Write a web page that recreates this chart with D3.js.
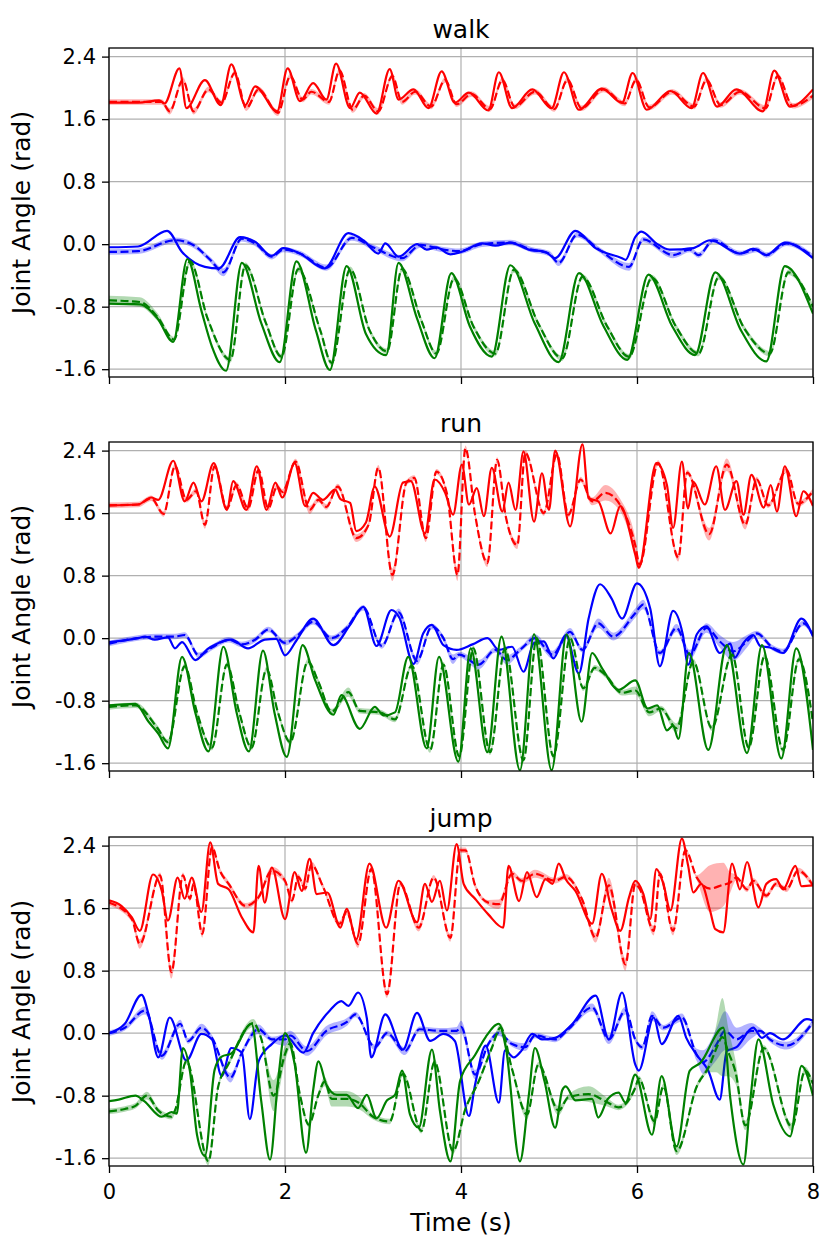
<!DOCTYPE html>
<html>
<head>
<meta charset="utf-8">
<script src="https://cdn.jsdelivr.net/npm/d3@7"></script>
<style>
  body { margin: 0; background: #fff; }
  text { font-family: "DejaVu Sans", sans-serif; }
</style>
</head>
<body>
<svg width="830" height="1240"></svg>
<script>
// [time (s), joint angle (rad)] for the measured curves,
// [time, angle, band half-width] for the predicted ones (half-width defaults to 0.035)

var walkRedTrue = [[0,1.81],[0.33,1.81],[0.57,1.84],[0.63,1.80],[0.80,2.25],[0.88,1.74],[1.09,2.10],[1.27,1.78],[1.39,2.30],[1.55,1.78],[1.66,2.02],[1.91,1.70],
  [2.03,2.25],[2.17,1.83],[2.32,2.06],[2.47,1.85],[2.58,2.31],[2.74,1.74],[2.85,1.94],[3.04,1.67],[3.19,2.24],[3.29,1.85],[3.46,1.98],[3.63,1.74],[3.78,2.21],[3.93,1.81],
  [4.09,1.94],[4.31,1.71],[4.43,2.20],[4.58,1.74],[4.81,1.98],[5.03,1.74],[5.17,2.20],[5.34,1.72],[5.60,1.99],[5.83,1.81],[5.95,2.19],
  [6.11,1.72],[6.38,1.96],[6.62,1.74],[6.75,2.19],[6.91,1.76],[7.13,1.98],[7.43,1.70],[7.56,2.22],[7.74,1.76],[8.0,1.98]];
var walkRedPred = [[0,1.82],[0.33,1.82],[0.60,1.82],[0.69,1.70,0.04],[0.84,2.10],[0.96,1.70,0.04],[1.13,1.98],[1.28,1.81],[1.43,2.19],[1.56,1.74],[1.70,1.98],[1.92,1.68,0.04],
  [2.06,2.15],[2.20,1.85],[2.30,1.95],[2.50,1.82],[2.62,2.22],[2.77,1.72,0.04],[2.90,1.90],[3.06,1.70,0.04],[3.22,2.15],[3.33,1.82],[3.48,1.95],[3.66,1.76],[3.82,2.10],[3.95,1.79],
  [4.12,1.92],[4.33,1.73],[4.47,2.10],[4.61,1.76],[4.84,1.95],[5.06,1.73],[5.21,2.10],[5.37,1.74],[5.62,1.98],[5.86,1.80],[5.99,2.10],
  [6.14,1.75],[6.40,1.95],[6.65,1.76],[6.79,2.10],[6.95,1.78],[7.17,1.95],[7.46,1.74],[7.60,2.15],[7.77,1.77],[8.0,1.90]];

var walkBlueTrue = [[0,-0.04],[0.33,-0.03],[0.66,0.17],[0.83,-0.10],[1.09,-0.29],[1.25,-0.31],[1.49,0.09],[1.66,0.03],[1.85,-0.15],[1.98,-0.05],
  [2.17,-0.12],[2.45,-0.31],[2.72,0.14],[2.89,0.05],[3.06,-0.12],[3.14,0.01],[3.29,-0.16],[3.50,0.0],[3.61,-0.07],[3.72,-0.04],[3.88,-0.13],
  [4.0,-0.10],[4.24,0.01],[4.39,-0.02],[4.56,0.02],[4.77,-0.07],[4.96,-0.10],[5.07,-0.18],[5.30,0.17],[5.53,-0.05],[5.83,-0.18],[5.87,-0.20],[5.98,0.09],
  [6.05,0.16],[6.22,0.01],[6.37,-0.07],[6.64,-0.05],[6.83,0.05],[7.17,-0.12],[7.32,-0.06],[7.47,-0.14],[7.68,0.02],[8.0,-0.18]];
var walkBluePred = [[0,-0.10],[0.33,-0.09],[0.75,0.05],[0.94,0.0],[1.15,-0.20],[1.30,-0.36,0.05],[1.51,0.07],[1.66,0.01],[1.85,-0.16],[1.98,-0.07],
  [2.17,-0.12],[2.47,-0.30,0.04],[2.76,0.08],[3.0,-0.04],[3.33,-0.18,0.04],[3.54,-0.01],[3.80,-0.07],[3.98,-0.09],
  [4.24,0.0],[4.56,0.02],[4.80,-0.07],[5.00,-0.12],[5.11,-0.24,0.04],[5.32,0.12],[5.57,-0.07],[5.91,-0.29,0.05],
  [6.07,0.06],[6.41,-0.14,0.04],[6.60,-0.07],[6.70,-0.14],[6.87,0.05],[7.17,-0.12],[7.36,-0.07],[7.47,-0.14],[7.70,0.01],[8.0,-0.16]];

var walkGreenTrue = [[0,-0.76],[0.35,-0.77],[0.55,-0.95],[0.73,-1.25],[0.89,-0.19],[1.05,-0.85],[1.17,-1.31],[1.33,-1.62],[1.51,-0.24],[1.73,-1.01],[1.94,-1.51],
  [2.13,-0.22],[2.35,-1.10],[2.51,-1.61],[2.70,-0.28],[2.92,-1.15],[3.15,-1.42],[3.29,-0.24],[3.50,-0.95],[3.70,-1.46],[3.89,-0.37],
  [4.10,-1.05],[4.35,-1.44],[4.56,-0.27],[4.84,-1.02],[5.11,-1.51],[5.34,-0.37],[5.62,-1.05],[5.89,-1.48],
  [6.13,-0.39],[6.40,-1.05],[6.66,-1.42],[6.89,-0.36],[7.18,-1.10],[7.47,-1.50],[7.68,-0.28],[8.0,-0.89]];
var walkGreenPred = [[0,-0.72,0.06],[0.35,-0.74,0.06],[0.55,-0.93,0.05],[0.74,-1.22],[0.92,-0.22],[1.12,-0.95],[1.38,-1.48],[1.55,-0.27],[1.78,-1.00],[1.96,-1.44],
  [2.15,-0.32],[2.40,-1.10],[2.53,-1.52],[2.74,-0.32],[2.96,-1.10],[3.16,-1.37],[3.33,-0.32],[3.55,-0.98],[3.72,-1.40],[3.92,-0.44],
  [4.14,-1.05],[4.39,-1.40],[4.60,-0.33],[4.88,-1.02],[5.15,-1.46],[5.38,-0.42],[5.66,-1.05],[5.91,-1.44],
  [6.17,-0.43],[6.44,-1.05],[6.70,-1.40],[6.93,-0.42],[7.22,-1.08],[7.51,-1.40],[7.72,-0.36],[8.0,-0.80]];

var runRedTrue = [[0,1.70],[0.33,1.71],[0.48,1.80],[0.56,1.77],[0.73,2.27],[0.86,1.75],[0.96,1.99],[1.05,1.75],[1.19,2.24],[1.34,1.64],[1.41,2.01],[1.56,1.64],[1.68,2.20],[1.79,1.64],[1.89,1.99],[1.97,1.80],
  [2.11,2.24],[2.23,1.69],[2.32,1.86],[2.43,1.77],[2.57,1.90],[2.63,1.78],[2.74,1.73],[2.81,1.37],[2.92,1.48],[3.02,1.94],[3.19,1.30],[3.34,1.99],[3.43,2.01],[3.59,1.34],[3.70,2.03],[3.82,1.86],[3.91,1.58],
  [4.01,2.22],[4.09,1.71],[4.18,1.92],[4.26,1.56],[4.35,2.18],[4.47,1.62],[4.54,1.99],[4.62,1.64],[4.71,2.39],[4.83,1.49],[4.92,2.11],[5.00,1.64],[5.07,2.40],[5.24,1.43],[5.38,2.48],[5.45,1.79],[5.56,1.75],[5.70,1.34],[5.81,1.69],[5.98,1.07],
  [6.02,0.90],[6.22,2.24],[6.34,1.96],[6.41,1.41],[6.51,2.26],[6.58,1.66],[6.64,2.00],[6.77,1.71],[6.90,2.20],[7.00,1.64],[7.13,2.01],[7.21,1.58],[7.30,2.09],[7.44,1.67],[7.52,1.96],[7.59,1.62],[7.68,2.20],[7.81,1.56],[7.89,1.88],[8.0,1.69]];
var runRedPred = [[0,1.70],[0.33,1.71],[0.48,1.79],[0.62,1.59],[0.75,2.20],[0.88,1.77],[0.99,1.88],[1.09,1.45,0.05],[1.20,2.20],[1.34,1.66],[1.45,1.96],[1.58,1.66],[1.70,2.15],[1.81,1.66],[1.91,1.94],[1.97,1.87],
  [2.12,2.26],[2.28,1.64,0.05],[2.38,1.77],[2.47,1.68],[2.60,1.94],[2.81,1.28,0.05],[2.95,1.45],[3.06,2.18],[3.22,0.81,0.08],[3.38,1.99],[3.47,2.05],[3.60,1.28,0.05],[3.72,2.13],[3.84,1.85],[3.96,0.81,0.08],
  [4.05,2.43],[4.16,1.58],[4.30,0.96,0.05],[4.41,2.28],[4.51,1.55],[4.64,1.19,0.05],[4.73,2.37],[4.94,1.60],[5.09,2.35],[5.22,1.58],[5.36,2.03],[5.49,1.75,0.05],[5.64,1.86,0.1],[5.81,1.70,0.08],[5.98,1.19,0.1],
  [6.03,0.94,0.05],[6.24,2.24],[6.47,1.03,0.05],[6.57,2.12],[6.82,1.33,0.08],[7.02,2.22,0.08],[7.23,1.45,0.06],[7.36,2.03],[7.49,1.70],[7.70,2.15],[7.83,1.72],[8.0,1.88]];

var runBlueTrue = [[0,-0.05],[0.33,0.0],[0.41,0.02],[0.52,-0.02],[0.67,0.01],[0.75,-0.13],[0.83,-0.05],[0.98,-0.28],[1.13,-0.13],[1.21,-0.08],[1.39,-0.02],[1.58,-0.13],[1.77,-0.02],[1.90,-0.01],[2.0,-0.22],
  [2.13,-0.03],[2.32,0.25],[2.55,-0.09],[2.74,0.17],[2.89,0.40],[3.04,-0.10],[3.21,0.36],[3.30,0.26],[3.46,-0.33],[3.57,0.06],[3.67,0.17],[3.80,-0.09],[3.95,-0.15],
  [4.13,-0.08],[4.30,0.0],[4.43,-0.15],[4.58,-0.11],[4.71,-0.43],[4.83,-0.06],[4.94,-0.04],[5.05,-0.26],[5.19,0.04],[5.34,-0.45],[5.45,0.25],[5.58,0.69],[5.71,0.51],[5.83,0.25],
  [6.0,0.70],[6.15,0.38],[6.26,-0.36],[6.41,0.35],[6.52,0.05],[6.58,-0.34],[6.68,0.05],[6.79,0.15],[6.94,-0.19],[7.06,-0.07],[7.11,-0.25],[7.21,-0.06],[7.32,0.04],[7.40,-0.10],[7.51,-0.12],[7.66,-0.19],[7.87,0.25],[8.0,0.02]];
var runBluePred = [[0,-0.07],[0.55,0.02],[0.75,0.02],[0.86,0.04],[1.02,-0.22],[1.17,-0.12],[1.36,-0.02],[1.51,-0.08],[1.66,-0.02],[1.81,0.11],[2.0,-0.06],
  [2.13,0.02],[2.32,0.21],[2.53,0.00],[2.70,0.13],[2.89,0.39],[3.10,-0.10],[3.29,0.33,0.05],[3.50,-0.29,0.05],[3.67,0.15],[3.80,0.0],[3.91,-0.27,0.06],[3.98,-0.21],
  [4.20,-0.34,0.06],[4.39,-0.15],[4.52,-0.28,0.06],[4.69,-0.13],[4.84,0.0,0.05],[5.04,-0.21,0.05],[5.24,0.08,0.05],[5.38,-0.15],[5.56,0.19,0.06],[5.73,0.02,0.05],[5.98,0.32,0.06],
  [6.07,0.43,0.06],[6.26,-0.19],[6.45,0.13,0.05],[6.60,-0.21,0.06],[6.79,0.13,0.06],[6.94,-0.04,0.08],[7.09,-0.17,0.12],[7.25,-0.04,0.08],[7.36,0.06],[7.55,-0.13],[7.66,-0.17],[7.89,0.19],[8.0,0.04]];

var runGreenTrue = [[0,-0.86],[0.30,-0.84],[0.45,-1.07],[0.56,-1.22],[0.67,-1.41],[0.83,-0.24],[0.98,-0.95],[1.13,-1.45],[1.30,-0.11],[1.45,-0.95],[1.59,-1.45],[1.75,-0.16],[1.88,-0.95],[2.02,-1.52],
  [2.20,-0.09],[2.34,-0.53],[2.55,-0.98],[2.64,-0.73],[2.85,-1.16],[3.02,-0.88],[3.12,-0.99],[3.25,-0.95],[3.40,-0.24],[3.61,-1.41],[3.75,-0.24],[3.97,-1.58],
  [4.11,-0.13],[4.30,-1.46],[4.46,0.02],[4.67,-1.69],[4.83,0.05],[5.03,-1.69],[5.20,0.05],[5.37,-1.07],[5.49,-0.19],[5.60,-0.38],[5.79,-0.66],[5.98,-0.54],
  [6.12,-0.90],[6.23,-0.86],[6.34,-1.18],[6.41,-1.12],[6.47,-1.29],[6.59,-0.19],[6.81,-1.43],[7.02,-0.09],[7.25,-1.47],[7.42,-0.09],[7.64,-1.54],[7.81,-0.13],[8.0,-1.43]];
var runGreenPred = [[0,-0.88],[0.30,-0.86],[0.55,-1.15],[0.67,-1.33],[0.86,-0.36],[1.0,-0.95],[1.17,-1.40],[1.34,-0.34],[1.48,-0.95],[1.62,-1.40],[1.79,-0.40],[1.92,-0.95],[2.06,-1.33],
  [2.26,-0.30],[2.38,-0.56],[2.53,-0.94],[2.72,-0.69,0.06],[2.85,-0.93],[3.08,-0.95],[3.25,-1.04],[3.44,-0.35],[3.65,-1.43],[3.80,-0.34],[3.98,-1.51],
  [4.14,-0.13],[4.33,-1.46],[4.50,-0.13],[4.71,-1.56],[4.86,0.0],[5.05,-1.51],[5.24,0.0],[5.39,-0.64],[5.52,-0.38],[5.64,-0.47],[5.83,-0.70],[5.98,-0.67,0.05],
  [6.14,-0.95,0.05],[6.27,-0.90],[6.45,-1.15,0.06],[6.64,-0.30],[6.85,-1.15],[7.08,-0.21],[7.27,-1.40],[7.45,-0.23],[7.66,-1.43],[7.84,-0.27],[8.0,-1.08]];

var jumpRedTrue = [[0,1.70],[0.14,1.63],[0.26,1.48],[0.35,1.31],[0.50,2.03],[0.60,1.82],[0.67,1.44],[0.78,1.99],[0.86,1.72],[0.94,1.99],[1.05,1.55],[1.15,2.44],[1.24,1.91],[1.36,1.84],[1.51,1.48],[1.64,1.29],[1.70,2.14],[1.77,1.67],[1.85,2.12],[2.0,1.46],
  [2.11,2.06],[2.19,1.82],[2.28,2.23],[2.36,1.78],[2.48,1.80],[2.63,1.35],[2.70,1.59],[2.81,1.20],[2.96,2.17],[3.15,1.35],[3.29,1.95],[3.50,1.42],[3.59,1.91],[3.67,1.68],[3.76,1.95],[3.84,1.57],[3.95,2.42],
  [4.03,1.91],[4.16,1.72],[4.31,1.52],[4.48,1.35],[4.54,2.14],[4.66,1.69],[4.75,2.06],[4.86,1.74],[4.96,1.97],[5.04,1.91],[5.11,2.17],[5.19,1.97],[5.30,1.82],[5.49,1.40],[5.60,2.04],[5.71,1.59],[5.81,1.31],[5.91,1.74],[5.98,1.95],
  [6.07,1.79],[6.15,1.46],[6.22,2.10],[6.30,1.91],[6.38,1.57],[6.51,2.49],[6.58,2.15],[6.64,1.80],[6.73,1.91],[6.83,1.57],[6.89,1.33],[6.98,1.29],[7.08,2.17],[7.17,1.84],[7.25,2.19],[7.38,1.61],[7.47,1.91],[7.58,1.97],[7.66,1.84],[7.80,2.14],[7.87,1.88],[8.0,1.89]];
var jumpRedPred = [[0,1.67],[0.26,1.46],[0.35,1.14,0.06],[0.58,2.02],[0.71,0.78,0.08],[0.84,2.02],[0.92,1.72],[0.96,1.91],[1.06,1.27,0.05],[1.17,2.38],[1.26,2.08],[1.36,1.91],[1.55,1.63],[1.70,1.74],[1.85,2.08,0.05],[2.0,1.95],
  [2.08,1.70],[2.15,2.00],[2.23,1.85],[2.30,2.16],[2.43,1.88],[2.62,1.40],[2.70,1.55],[2.83,1.14,0.05],[2.98,2.10],[3.16,0.50,0.05],[3.31,1.91],[3.52,1.35,0.05],[3.69,1.99],[3.88,1.22,0.05],[3.99,2.34],
  [4.05,2.34],[4.16,1.89],[4.31,1.67],[4.43,1.65,0.06],[4.58,2.04],[4.69,1.95],[4.84,2.04,0.05],[5.07,1.95],[5.19,2.0],[5.38,1.70],[5.53,1.22,0.06],[5.68,1.89,0.1],[5.87,0.88,0.08],[5.98,1.91],
  [6.03,1.85],[6.19,1.31,0.06],[6.26,2.04],[6.41,1.31,0.06],[6.55,2.34],[6.68,1.99],[6.83,1.85,0.3],[6.98,1.90,0.28],[7.05,1.92,0.15],[7.13,1.99],[7.25,1.84],[7.32,1.95],[7.47,1.76],[7.58,1.91],[7.70,1.84],[7.83,2.08],[8.0,1.89]];

var jumpBlueTrue = [[0,0.0],[0.18,0.12],[0.37,0.49],[0.45,0.24],[0.56,-0.31],[0.69,0.20],[0.88,-0.35],[1.05,-0.01],[1.17,-0.08],[1.28,-0.55],[1.39,-0.19],[1.51,-0.25],[1.60,-1.10],[1.70,-0.36],[1.85,-0.14],[2.0,-0.03],
  [2.21,-0.25],[2.32,0.0],[2.51,0.29],[2.64,0.41],[2.72,0.35],[2.83,0.52],[2.93,0.19],[2.98,-0.31],[3.14,0.24],[3.34,-0.21],[3.50,0.26],[3.65,-0.10],[3.80,-0.01],[3.93,-0.10],
  [4.09,-1.06],[4.16,-0.66],[4.28,-0.16],[4.43,-0.89],[4.50,-0.22],[4.60,-0.31],[4.69,-0.22],[4.81,-0.01],[4.92,-0.08],[5.07,-0.06],[5.26,0.11],[5.53,0.48],[5.68,-0.08],[5.83,0.52],[5.98,-0.40],
  [6.02,-0.48],[6.19,0.20],[6.28,-0.14],[6.47,0.22],[6.56,-0.06],[6.68,-0.28],[6.81,-0.48],[6.94,-0.85],[7.02,-0.23],[7.13,-0.18],[7.32,0.07],[7.42,-0.06],[7.51,0.0],[7.66,-0.08],[7.93,0.18],[8.0,0.16]];
var jumpBluePred = [[0,0.0],[0.18,0.07],[0.41,0.29,0.05],[0.60,-0.29,0.05],[0.81,0.12,0.05],[0.90,-0.10],[1.05,0.07,0.05],[1.17,-0.06],[1.38,-0.57,0.06],[1.51,-0.25],[1.70,0.05,0.06],[1.85,-0.08],[2.0,-0.08,0.08],
  [2.06,-0.03,0.06],[2.25,-0.23,0.06],[2.47,0.03,0.06],[2.70,0.14,0.05],[2.80,0.24],[3.02,-0.18],[3.16,0.0],[3.36,-0.23,0.05],[3.53,0.05],[3.75,0.03],[3.95,0.03,0.05],
  [4.0,0.08,0.08],[4.16,-0.53,0.06],[4.31,-0.14],[4.43,0.0],[4.58,-0.14],[4.73,-0.18,0.05],[4.84,-0.03],[5.07,-0.08],[5.22,0.05],[5.49,0.33,0.05],[5.68,-0.08,0.06],[5.87,0.29,0.05],[5.98,-0.08],
  [6.06,-0.18],[6.17,0.22,0.06],[6.30,0.07],[6.51,0.20,0.05],[6.68,-0.28,0.08],[6.75,-0.37,0.15],[6.90,-0.15,0.2],[7.0,0.03,0.25],[7.13,-0.08,0.15],[7.30,0.03,0.1],[7.40,0.03],[7.51,-0.08],[7.70,-0.16,0.05],[8.0,0.14]];

var jumpGreenTrue = [[0,-0.87],[0.11,-0.85],[0.30,-0.80],[0.40,-0.87],[0.60,-1.07],[0.71,-1.01],[0.77,-1.03],[0.84,-0.19],[0.92,-0.49],[1.0,-1.30],[1.09,-1.57],[1.20,-0.47],[1.28,-0.30],[1.39,-0.26],[1.62,0.12],[1.73,-0.87],[1.83,-1.62],[1.92,-0.62],[2.0,0.0],
  [2.11,-0.40],[2.24,-1.53],[2.32,-0.73],[2.38,-0.36],[2.47,-0.66],[2.59,-0.79],[2.70,-0.79],[2.83,-0.96],[2.93,-0.79],[3.04,-1.09],[3.16,-0.86],[3.25,-0.79],[3.33,-0.48],[3.42,-1.04],[3.52,-1.21],[3.67,-0.21],[3.76,-0.99],[3.88,-1.64],
  [3.99,-0.61],[4.16,-0.28],[4.28,-0.05],[4.43,0.12],[4.51,-0.19],[4.67,-1.64],[4.77,-0.80],[4.84,-0.19],[4.95,-0.62],[5.07,-1.21],[5.15,-0.73],[5.19,-0.68],[5.30,-0.86],[5.49,-0.84],[5.56,-1.08],[5.67,-0.84],[5.79,-0.76],[5.87,-0.89],[5.98,-0.53],
  [6.17,-1.30],[6.28,-0.55],[6.45,-1.45],[6.60,-0.48],[6.72,-0.38],[6.98,0.07],[7.06,-0.83],[7.21,-1.68],[7.29,-0.83],[7.38,-0.08],[7.55,-0.92],[7.74,-1.32],[7.87,-0.42],[8.0,-0.80]];
var jumpGreenPred = [[0,-1.0],[0.18,-0.97],[0.30,-0.93],[0.43,-0.80,0.05],[0.56,-0.99],[0.71,-1.07],[0.75,-0.99],[0.88,-0.36],[1.13,-1.64,0.05],[1.24,-0.69],[1.36,-0.39],[1.64,0.13,0.05],[1.73,-0.07],[1.87,-0.80,0.2],[2.0,-0.27,0.1],
  [2.06,-0.13,0.06],[2.17,-0.79],[2.27,-1.17],[2.38,-0.79],[2.45,-0.62,0.06],[2.53,-0.84,0.1],[2.70,-0.84,0.1],[2.85,-0.90,0.08],[3.0,-1.07],[3.19,-1.13],[3.34,-0.52],[3.55,-1.25],[3.70,-0.37],[3.91,-1.51],
  [4.05,-0.97],[4.20,-0.62],[4.35,-0.19],[4.45,0.07,0.05],[4.58,-0.46],[4.75,-1.04,0.06],[4.88,-0.40],[5.11,-0.99,0.06],[5.22,-0.82],[5.45,-0.78,0.1],[5.64,-0.87,0.06],[5.79,-0.95],[5.98,-0.70],
  [6.02,-0.58],[6.20,-1.13,0.05],[6.30,-0.68],[6.45,-1.51,0.05],[6.68,-0.68],[6.83,-0.40,0.1],[6.90,-0.20,0.3],[6.97,-0.05,0.5],[7.04,-0.25,0.3],[7.12,-0.50,0.15],[7.23,-1.18,0.06],[7.44,-0.19],[7.76,-1.20,0.05],[7.91,-0.48,0.05],[8.0,-0.65]];

var panelTitles = ["walk", "run", "jump"];
var yTicks = [-1.6, -0.8, 0.0, 0.8, 1.6, 2.4];
var xTicks = [0, 2, 4, 6, 8];

var panels = [
  [["red", walkRedTrue, walkRedPred], ["blue", walkBlueTrue, walkBluePred], ["green", walkGreenTrue, walkGreenPred]],
  [["red", runRedTrue, runRedPred], ["blue", runBlueTrue, runBluePred], ["green", runGreenTrue, runGreenPred]],
  [["red", jumpRedTrue, jumpRedPred], ["blue", jumpBlueTrue, jumpBluePred], ["green", jumpGreenTrue, jumpGreenPred]]
];

var colors = {red: "#ff0000", blue: "#0000ff", green: "#008000"};

var svg = d3.select("svg"),
    margin = {left: 109, right: 17},
    width = +svg.attr("width") - margin.left - margin.right,
    panelTop = [48, 442, 837],
    panelH = 329;

var x = d3.scaleLinear().domain([0, 8]).range([0, width]);
var y = d3.scaleLinear().domain([-1.70, 2.51]).range([panelH, 0]);

var line = d3.line()
    .x(function(d) { return x(d[0]); })
    .y(function(d) { return y(d[1]); })
    .curve(d3.curveMonotoneX);

var band = d3.area()
    .x(function(d) { return x(d[0]); })
    .y0(function(d) { return y(d[1] - (d[2] || 0.035)); })
    .y1(function(d) { return y(d[1] + (d[2] || 0.035)); })
    .curve(d3.curveMonotoneX);

svg.append("defs").append("clipPath")
    .attr("id", "clip")
  .append("rect")
    .attr("width", width)
    .attr("height", panelH);

panels.forEach(function(joints, i) {
  var g = svg.append("g")
      .attr("transform", "translate(" + margin.left + "," + panelTop[i] + ")");

  // grid
  g.append("g").selectAll("line")
      .data(yTicks)
    .enter().append("line")
      .attr("x1", 0).attr("x2", width)
      .attr("y1", function(d) { return y(d); })
      .attr("y2", function(d) { return y(d); })
      .attr("stroke", "#b0b0b0").attr("stroke-width", 1.2);

  g.append("g").selectAll("line")
      .data(xTicks)
    .enter().append("line")
      .attr("x1", function(d) { return x(d); })
      .attr("x2", function(d) { return x(d); })
      .attr("y1", 0).attr("y2", panelH)
      .attr("stroke", "#b0b0b0").attr("stroke-width", 1.2);

  var plot = g.append("g").attr("clip-path", "url(#clip)");

  joints.forEach(function(j) {
    var c = colors[j[0]];
    plot.append("path")
        .datum(j[2])
        .attr("d", band)
        .attr("fill", c)
        .attr("fill-opacity", 0.3);

    plot.append("path")
        .datum(j[1])
        .attr("d", line)
        .attr("fill", "none")
        .attr("stroke", c)
        .attr("stroke-width", 2.2);

    plot.append("path")
        .datum(j[2])
        .attr("d", line)
        .attr("fill", "none")
        .attr("stroke", c)
        .attr("stroke-width", 2.2)
        .attr("stroke-dasharray", "8,3.5");
  });

  // axes
  var yAxis = g.append("g")
      .call(d3.axisLeft(y).tickValues(yTicks).tickSize(7).tickPadding(6)
        .tickFormat(function(d) { return d.toFixed(1); }));

  var xAxis = g.append("g")
      .attr("transform", "translate(0," + panelH + ")")
      .call(d3.axisBottom(x).tickValues(xTicks).tickSize(7).tickPadding(11)
        .tickFormat(i === 2 ? d3.format("d") : ""));

  [yAxis, xAxis].forEach(function(a) {
    a.select(".domain").remove();
    a.selectAll(".tick line").attr("stroke", "#000").attr("stroke-width", 1.3);
    a.selectAll("text").attr("fill", "#000").attr("font-size", "21px")
        .style("font-family", "'DejaVu Sans', sans-serif");
  });

  g.append("rect")
      .attr("width", width)
      .attr("height", panelH)
      .attr("fill", "none")
      .attr("stroke", "#000")
      .attr("stroke-width", 1.3);

  g.append("text")
      .attr("x", width / 2)
      .attr("y", -10)
      .attr("text-anchor", "middle")
      .attr("font-size", "25px")
      .text(panelTitles[i]);

  g.append("text")
      .attr("transform", "translate(" + (30 - margin.left) + "," + (panelH / 2) + ") rotate(-90)")
      .attr("text-anchor", "middle")
      .attr("font-size", "25px")
      .text("Joint Angle (rad)");
});

svg.append("text")
    .attr("x", margin.left + width / 2)
    .attr("y", 1231)
    .attr("text-anchor", "middle")
    .attr("font-size", "25px")
    .text("Time (s)");
</script>
</body>
</html>
